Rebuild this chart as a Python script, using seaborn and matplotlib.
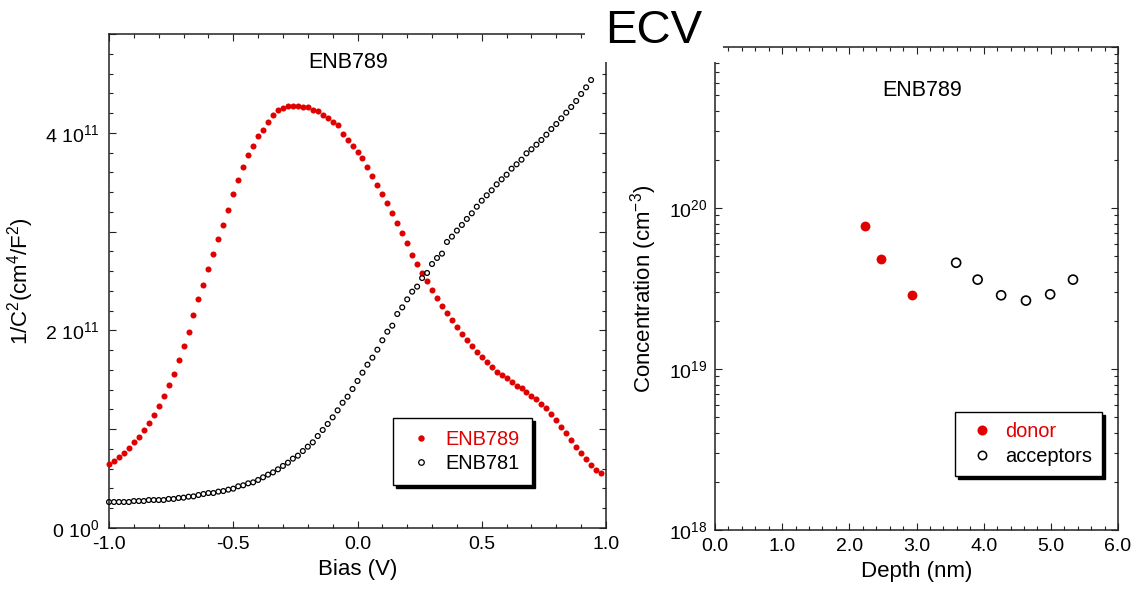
import numpy as np
import pandas as pd
import matplotlib
matplotlib.use("Agg")
import matplotlib.pyplot as plt
import seaborn as sns
from matplotlib.lines import Line2D
from matplotlib.patches import Rectangle
from matplotlib.ticker import MultipleLocator, FuncFormatter, FixedLocator, LogLocator, NullFormatter, FormatStrFormatter

# ---------------- data ----------------
# 1/C^2 vs bias (units of 1e11 cm^4/F^2), bias sweep in 0.02 V steps from -1.0 V
enb789_inv_c2 = [
    0.648, 0.681, 0.719, 0.763, 0.810, 0.867, 0.921, 0.992, 1.059, 1.144,
    1.235, 1.339, 1.444, 1.562, 1.700, 1.839, 1.987, 2.152, 2.314, 2.463,
    2.625, 2.777, 2.928, 3.070, 3.219, 3.381, 3.519, 3.657, 3.772, 3.866,
    3.971, 4.028, 4.109, 4.177, 4.227, 4.254, 4.271, 4.275, 4.275, 4.265,
    4.265, 4.227, 4.217, 4.180, 4.146, 4.113, 4.075, 3.991, 3.924, 3.870,
    3.809, 3.741, 3.657, 3.566, 3.472, 3.381, 3.286, 3.185, 3.090, 2.989,
    2.881, 2.766, 2.675, 2.584, 2.497, 2.409, 2.328, 2.244, 2.173, 2.105,
    2.038, 1.964, 1.903, 1.842, 1.778, 1.734, 1.677, 1.630, 1.582, 1.545,
    1.515, 1.478, 1.437, 1.414, 1.380, 1.336, 1.309, 1.252, 1.215, 1.157,
    1.096, 1.025, 0.958, 0.891, 0.820, 0.756, 0.701, 0.641, 0.584, 0.553,
]
enb781_inv_c2 = [
    0.263, 0.263, 0.263, 0.263, 0.263, 0.273, 0.273, 0.273, 0.283, 0.283,
    0.283, 0.283, 0.294, 0.294, 0.304, 0.307, 0.317, 0.320, 0.334, 0.344,
    0.354, 0.354, 0.368, 0.374, 0.388, 0.398, 0.422, 0.432, 0.452, 0.462,
    0.486, 0.513, 0.540, 0.563, 0.594, 0.628, 0.661, 0.702, 0.732, 0.779,
    0.823, 0.867, 0.931, 0.992, 1.053, 1.120, 1.191, 1.268, 1.329, 1.407,
    1.488, 1.572, 1.653, 1.724, 1.805, 1.900, 1.987, 2.048, 2.166, 2.233,
    2.314, 2.392, 2.443, 2.530, 2.581, 2.672, 2.733, 2.777, 2.895, 2.949,
    3.010, 3.067, 3.128, 3.185, 3.252, 3.313, 3.367, 3.418, 3.478, 3.529,
    3.576, 3.637, 3.681, 3.728, 3.792, 3.833, 3.880, 3.927, 3.981, 4.038,
    4.089, 4.146, 4.204, 4.261, 4.322, 4.393, 4.460, 4.534,
]
bias_start = -1.0
bias_step = 0.02
bias_789 = np.round(bias_start + bias_step * np.arange(len(enb789_inv_c2)), 2)
bias_781 = np.round(bias_start + bias_step * np.arange(len(enb781_inv_c2)), 2)

# ECV profile
donor_depth = [2.24, 2.47, 2.93]
donor_conc = [7.76e19, 4.84e19, 2.87e19]
acc_depth = [3.59, 3.91, 4.26, 4.63, 4.99, 5.33]
acc_conc = [4.57e19, 3.59e19, 2.87e19, 2.66e19, 2.91e19, 3.59e19]

series_labels = ["ENB789", "ENB781"]
ecv_labels = ["donor", "acceptors"]

# ---------------- style ----------------
sns.set_style("ticks")
plt.rcParams['font.family'] = ['Liberation Sans', 'DejaVu Sans']
plt.rcParams['mathtext.fontset'] = 'custom'
plt.rcParams['mathtext.rm'] = 'Liberation Sans'
plt.rcParams['mathtext.it'] = 'Liberation Sans:italic'
plt.rcParams['mathtext.bf'] = 'Liberation Sans:bold'
plt.rcParams['mathtext.default'] = 'regular'
plt.rcParams['text.color'] = 'black'
plt.rcParams['axes.labelcolor'] = 'black'
plt.rcParams['xtick.color'] = 'black'
plt.rcParams['ytick.color'] = 'black'

RED = '#e00000'
SPINE = '#222222'
TICK_FS = 14
LABEL_FS = 16
TITLE_FS = 15.5
LEG_FS = 14.4

df789 = pd.DataFrame({"bias": bias_789, "inv_c2": np.array(enb789_inv_c2) * 1e11})
df781 = pd.DataFrame({"bias": bias_781, "inv_c2": np.array(enb781_inv_c2) * 1e11})
df_don = pd.DataFrame({"depth": donor_depth, "conc": donor_conc})
df_acc = pd.DataFrame({"depth": acc_depth, "conc": acc_conc})

W, H = 1134, 593
fig = plt.figure(figsize=(W / 100, H / 100), dpi=100)
fig.patch.set_facecolor('white')


def fbox(x0, y0, x1, y1):
    return [x0 / W, 1 - y1 / H, (x1 - x0) / W, (y1 - y0) / H]


ax1 = fig.add_axes(fbox(109, 34, 606, 528))
ax2 = fig.add_axes(fbox(715, 47, 1118, 530))


def style_axes(ax):
    for s in ax.spines.values():
        s.set_visible(True)
        s.set_linewidth(1.1)
        s.set_color(SPINE)
    ax.tick_params(which='both', direction='in', top=True, right=True,
                   color=SPINE, width=0.8, labelsize=TICK_FS, labelcolor='black')
    ax.tick_params(which='major', length=5)
    ax.tick_params(which='minor', length=3)
    ax.tick_params(axis='x', which='major', pad=6)
    ax.tick_params(axis='y', which='major', pad=7)
    ax.grid(False)


# ---------------- left: 1/C^2 ----------------
sns.scatterplot(data=df789, x="bias", y="inv_c2", ax=ax1, color=RED, s=19,
                linewidth=0, marker='o', clip_on=False, zorder=3)
sns.scatterplot(data=df781, x="bias", y="inv_c2", ax=ax1, facecolors='none',
                edgecolor='black', s=12, linewidth=0.9, marker='o',
                clip_on=False, zorder=4)
style_axes(ax1)
ax1.set_xlim(-1.0, 1.0)
ax1.set_ylim(0, 5e11)
ax1.xaxis.set_major_locator(MultipleLocator(0.5))
ax1.xaxis.set_minor_locator(MultipleLocator(0.1))
ax1.xaxis.set_major_formatter(FormatStrFormatter('%.1f'))
ax1.yaxis.set_major_locator(MultipleLocator(1e11))
ax1.yaxis.set_minor_locator(MultipleLocator(0.2e11))


def left_fmt(v, pos):
    k = int(round(v / 1e11))
    if k == 0:
        return r"0 10$^{0}$"
    if k in (2, 4):
        return r"%d 10$^{11}$" % k
    return ""


ax1.yaxis.set_major_formatter(FuncFormatter(left_fmt))
ax1.set_xlabel("Bias (V)", fontsize=LABEL_FS, labelpad=4)
ax1.set_ylabel(r"1/C$^{2}$(cm$^{4}$/F$^{2}$)", fontsize=LABEL_FS, labelpad=6)
ax1.text(0.481, 0.932, "ENB789", transform=ax1.transAxes, ha='center',
         va='baseline', fontsize=TITLE_FS)

h1 = [Line2D([], [], ls='none', marker='o', color=RED, markersize=4.6, markeredgewidth=0),
      Line2D([], [], ls='none', marker='o', markerfacecolor='none',
             markeredgecolor='black', markersize=4.0, markeredgewidth=0.9)]
leg1 = ax1.legend(h1, series_labels, loc='upper left', bbox_to_anchor=(0.571, 0.223),
                  fontsize=LEG_FS, frameon=True, fancybox=False, framealpha=1,
                  edgecolor='black', borderpad=0.6, labelspacing=0.25,
                  handlelength=1.6, handletextpad=0.45, borderaxespad=0,
                  shadow={'color': 'black', 'alpha': 1.0})
leg1.get_frame().set_linewidth(1.0)
leg1.get_texts()[0].set_color(RED)
leg1.set_zorder(10)

# ---------------- right: ECV ----------------
sns.scatterplot(data=df_don, x="depth", y="conc", ax=ax2, color=RED, s=50,
                linewidth=0, marker='o', zorder=3)
sns.scatterplot(data=df_acc, x="depth", y="conc", ax=ax2, facecolors='none',
                edgecolor='black', s=42, linewidth=1.2, marker='o', zorder=3)
ax2.set_yscale('log')
style_axes(ax2)
ax2.tick_params(axis='y', which='major', pad=5.5)
ax2.set_xlim(0, 6)
ax2.set_ylim(1e18, 1e21)
ax2.xaxis.set_major_locator(MultipleLocator(1.0))
ax2.xaxis.set_minor_locator(MultipleLocator(0.2))
ax2.xaxis.set_major_formatter(FormatStrFormatter('%.1f'))
ax2.yaxis.set_major_locator(FixedLocator([1e18, 1e19, 1e20, 1e21]))
ax2.yaxis.set_minor_locator(LogLocator(base=10, subs=np.arange(2, 10), numticks=20))
ax2.yaxis.set_minor_formatter(NullFormatter())


def right_fmt(v, pos):
    e = int(round(np.log10(v)))
    if e >= 21:
        return ""
    return r"10$^{%d}$" % e


ax2.yaxis.set_major_formatter(FuncFormatter(right_fmt))
ax2.set_xlabel("Depth (nm)", fontsize=LABEL_FS, labelpad=4)
ax2.set_ylabel(r"Concentration (cm$^{-3}$)", fontsize=LABEL_FS, labelpad=7)
ax2.text(0.514, 0.899, "ENB789", transform=ax2.transAxes, ha='center',
         va='baseline', fontsize=TITLE_FS)

h2 = [Line2D([], [], ls='none', marker='o', color=RED, markersize=7.2, markeredgewidth=0),
      Line2D([], [], ls='none', marker='o', markerfacecolor='none',
             markeredgecolor='black', markersize=6.0, markeredgewidth=1.1)]
leg2 = ax2.legend(h2, ecv_labels, loc='upper left', bbox_to_anchor=(0.5955, 0.2443),
                  fontsize=LEG_FS, frameon=True, fancybox=False, framealpha=1,
                  edgecolor='black', borderpad=0.5, labelspacing=0.3,
                  handlelength=1.75, handletextpad=0.25, borderaxespad=0,
                  shadow={'color': 'black', 'alpha': 1.0})
leg2.get_frame().set_linewidth(1.0)
leg2.get_texts()[0].set_color(RED)
leg2.set_zorder(10)

# ---------------- slide title block ----------------
fig.add_artist(Rectangle((585 / W, 1 - 62 / H), (723 - 585) / W, 62 / H,
                         transform=fig.transFigure, facecolor='white',
                         edgecolor='none', zorder=5))
fig.text(654 / W, 1 - 42.6 / H, "ECV", fontsize=34, ha='center', va='baseline',
         zorder=6)

fig.savefig("out.png", dpi=100, facecolor='white')
